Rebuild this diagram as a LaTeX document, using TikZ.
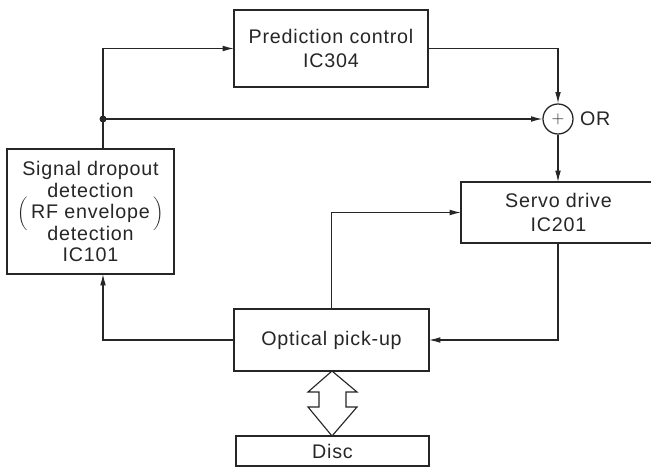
\documentclass[tikz,border=0pt]{standalone}
\usepackage{fontspec}
\setmainfont[LetterSpace=4]{Liberation Sans}
\usetikzlibrary{arrows.meta}
\tikzset{
  block/.style={draw=black!85,line width=1.3pt,inner sep=0pt,outer sep=0pt,
    align=center,text=black!85,font=\fontsize{14}{16.5}\selectfont},
  sigline/.style={draw=black!85,line width=0.75pt},
  sigarrow/.style={sigline,-{Latex[length=8pt,width=4pt]}}
}
\begin{document}
\begin{tikzpicture}[x=0.025cm,y=-0.025cm]
  \clip (0,0) rectangle (651,467);
  \fill[white] (0,0) rectangle (651,467);
  % blocks
  \node[block,minimum width=4.85cm,minimum height=1.925cm] (pred) at (331,48.5)
    {Prediction control\\IC304};
  \node[block,minimum width=4.175cm,minimum height=3.125cm,
    font=\fontsize{14}{15.3}\selectfont] (sig) at (90.5,211.5)
    {Signal dropout\\detection\\\smash{$\biggl($}\,RF envelope\,\smash{$\biggr)$}\\detection\\IC101};
  \node[block,minimum width=4.875cm,minimum height=1.525cm] (servo) at (558.5,212.5)
    {Servo drive\\IC201};
  \node[block,minimum width=4.875cm,minimum height=1.55cm] (pick) at (331.5,340)
    {Optical pick-up};
  \node[block,minimum width=4.825cm,minimum height=0.75cm] (disc) at (332.5,451)
    {Disc};
  \node[circle,draw=black!85,line width=0.9pt,minimum size=0.75cm,inner sep=0pt,
    font=\fontsize{12}{12}\selectfont,text=black!85] (or) at (558,119) {$+$};
  \node[right=1pt,text=black!85,font=\fontsize{14}{16}\selectfont] (orlbl) at (or.east) {OR};
  % junction on the dropout signal
  \coordinate (j) at (103,119);
  \fill[black!85] (j) circle (3.5);
  % connectors
  \draw[sigline] (j |- sig.north) -- (j);
  \draw[sigarrow] (j) |- (pred.west);
  \draw[sigarrow] (j) -- (or.west);
  \draw[sigarrow] (pred.east) -| (or.north);
  \draw[sigarrow] (or.south) -- (or.south |- servo.north);
  \draw[sigarrow] (or.south |- servo.south) |- (pick.east);
  \draw[sigarrow] (pick.west) -| (j |- sig.south);
  \draw[sigarrow] (pick.north) |- (servo.west);
  % hollow double arrow between pick-up and disc
  \draw[draw=black!85,line width=0.8pt,fill=white]
    (332,371) -- (357,392) -- (346,392) -- (346,407) -- (357,407) -- (332,436)
    -- (308,407) -- (319,407) -- (319,392) -- (308,392) -- cycle;
\end{tikzpicture}
\end{document}
